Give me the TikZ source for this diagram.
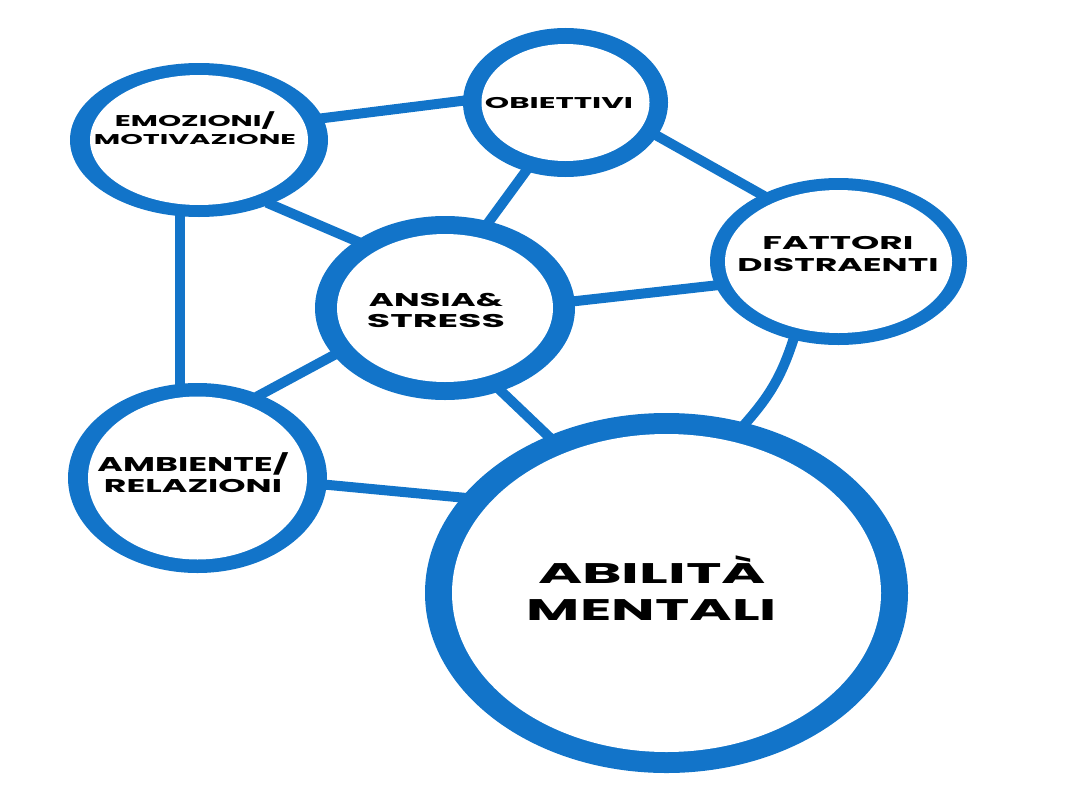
\documentclass[tikz,border=0pt]{standalone}
\usepackage{fontspec}
\setmainfont{Poppins}[BoldFont=* Bold]
\newfontfamily\techfont{Poppins}[BoldFont=* Bold]
\usetikzlibrary{shapes.geometric,backgrounds}
\definecolor{ringblue}{RGB}{18,116,201}
% width, cap height, text
\newcommand\fl[3]{\resizebox{#1pt}{#2pt}{\techfont\bfseries\raisebox{0pt}[\fontcharht\font`E][0pt]{#3}}}
\tikzset{
  ringout/.style={ellipse,draw=none,fill=ringblue,inner sep=0pt,outer sep=0pt},
  ringin/.style={ellipse,draw=none,fill=white,inner sep=0pt,outer sep=0pt},
  lbl/.style={align=center,text=black,inner sep=0pt},
  link/.style={draw=ringblue,line width=10pt,shorten <=-4pt,shorten >=-4pt}
}
\begin{document}
\begin{tikzpicture}[x=1pt,y=-1pt]
\useasboundingbox (0,0) rectangle (1067,800);
% circles: outer blue ellipse + inner white ellipse
\node[ringout,minimum width=258pt,minimum height=154pt] (emo) at (199,140) {};
\node[ringin,minimum width=218pt,minimum height=130pt] (emoin) at (emo) {};
\node[ringout,minimum width=205pt,minimum height=149pt] (obi) at (565.5,102.5) {};
\node[ringin,minimum width=168pt,minimum height=117pt] (obiin) at (obi) {};
\node[ringout,minimum width=260pt,minimum height=184pt] (ans) at (445,308) {};
\node[ringin,minimum width=216pt,minimum height=148pt] (ansin) at (ans) {};
\node[ringout,minimum width=257pt,minimum height=167pt] (fat) at (838.5,261.5) {};
\node[ringin,minimum width=227pt,minimum height=143pt] (fatin) at (fat) {};
\node[ringout,minimum width=259pt,minimum height=190pt] (amb) at (197.5,478) {};
\node[ringin,minimum width=219pt,minimum height=163pt] (ambin) at (amb) {};
\node[ringout,minimum width=483pt,minimum height=360pt] (abi) at (666.5,593) {};
\node[ringin,minimum width=429pt,minimum height=318pt] (abiin) at (abi) {};
% labels
\node[lbl,font=\fontsize{5}{18}\selectfont] (emot) at (195,129.5) {\fl{160}{11}{EMOZIONI/}\\\fl{202}{10}{MOTIVAZIONE}};
\node[lbl,font=\fontsize{5}{16}\selectfont] (obit) at (559,102.5) {\fl{148}{11}{OBIETTIVI}};
\node[lbl,font=\fontsize{5}{21.6}\selectfont] (anst) at (436,310.5) {\fl{134}{13}{ANSIA\&}\\\fl{138}{13}{STRESS}};
\node[lbl,font=\fontsize{5}{21.7}\selectfont] (fatt) at (838,254) {\fl{151}{13}{FATTORI}\\\fl{201}{13}{DISTRAENTI}};
\node[lbl,font=\fontsize{5}{21}\selectfont] (ambt) at (193,475) {\fl{191}{14}{AMBIENTE/}\\\fl{178}{13}{RELAZIONI}};
\node[lbl,font=\fontsize{5}{37}\selectfont] (abit) at (652,591.5) {\fl{228}{20}{ABILITÀ}\\\fl{250}{21}{MENTALI}};
% connectors
\begin{pgfonlayer}{background}
\draw[link] (emo.10) -- (obi.179);
\draw[link] (emo.-42) -- (ans.143);
\draw[link,shorten <=0pt,shorten >=0pt] ([yshift=4pt]emo.-104) -- ([yshift=-4pt]emo.-104 |- amb.north);
\draw[link] (obi.-120) -- (ans.63);
\draw[link] (obi.-20) -- (fat.139);
\draw[link] (ans.3) -- (fat.-169);
\draw[link] (ans.-157) -- (amb.53);
\draw[link] (ans.-56) -- (abi.127);
\draw[link] (amb.-3) -- (abi.155);
\draw[link] (fat.-120) to[bend left=12] (abi.65);
\end{pgfonlayer}
\end{tikzpicture}
\end{document}
